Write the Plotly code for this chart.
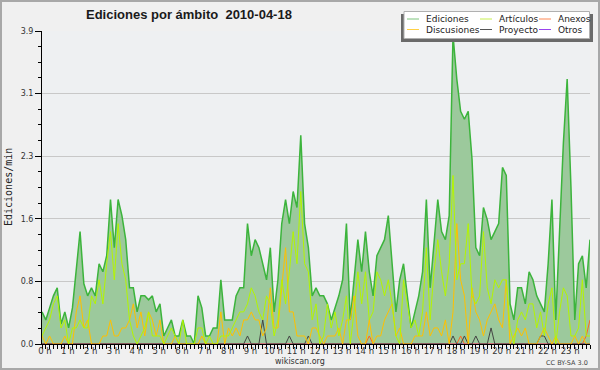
import plotly.graph_objects as go

# ---------------- data ----------------
# one sample every 10 minutes, 00:00 .. 24:00 (hours)
times = [m / 60 for m in range(0, 24 * 60 + 1, 10)]
hour_ticks = list(range(24))
hour_labels = [f"{h} h" for h in hour_ticks]
y_ticks = [0, 0.78, 1.56, 2.34, 3.12, 3.9]
y_tick_labels = ["0.0", "0.8", "1.6", "2.3", "3.1", "3.9"]

ediciones = [
    0.4, 0.3, 0.45, 0.6, 0.7, 0.25, 0.4, 0.2, 0.45, 0.95, 1.4, 0.75,
    0.6, 0.7, 0.6, 1.0, 0.9, 1.1, 1.8, 1.2, 1.8, 1.6, 1.3, 0.7,
    0.7, 0.4, 0.6, 0.6, 0.55, 0.6, 0.4, 0.5, 0.1, 0.2, 0.3, 0.1,
    0.1, 0.3, 0.1, 0.1, 0.0, 0.6, 0.45, 0.1, 0.1, 0.2, 0.2, 0.8,
    0.3, 0.3, 0.3, 0.6, 0.7, 0.7, 1.5, 1.1, 1.3, 1.2, 1.0, 0.8,
    1.2, 0.4, 0.8, 1.5, 1.8, 1.5, 1.9, 1.7, 2.6, 1.5, 1.2, 0.6,
    0.7, 0.6, 0.6, 0.5, 0.3, 0.45, 0.6, 0.8, 1.5, 0.3, 0.85, 1.3,
    0.9, 1.4, 0.9, 0.6, 1.1, 1.2, 1.3, 1.6, 1.0, 0.4, 0.8, 1.0,
    0.6, 0.2, 0.4, 0.6, 0.9, 1.8, 0.7, 1.3, 1.8, 1.4, 1.3, 1.6,
    3.85, 3.3, 2.9, 2.8, 2.9, 2.3, 1.2, 1.1, 1.7, 1.55, 1.3, 1.4,
    1.5, 2.2, 2.1, 0.5, 0.3, 0.7, 0.7, 0.5, 0.9, 0.8, 0.6, 0.5,
    0.4, 1.0, 1.8, 0.3, 1.4, 2.5, 3.3, 1.95, 0.3, 1.0, 1.1, 0.7,
    1.3,
]

articulos = [
    0.1, 0.2, 0.3, 0.5, 0.6, 0.2, 0.3, 0.0, 0.2, 0.2, 0.3, 0.2,
    0.2, 0.6, 0.5, 0.8, 0.5, 1.0, 1.4, 0.8, 1.5, 1.0, 0.8, 0.3,
    0.1, 0.0, 0.1, 0.2, 0.4, 0.1, 0.1, 0.1, 0.0, 0.1, 0.2, 0.1,
    0.0, 0.3, 0.0, 0.0, 0.0, 0.2, 0.2, 0.0, 0.1, 0.0, 0.0, 0.1,
    0.1, 0.1, 0.2, 0.3, 0.4, 0.4, 0.5, 0.7, 0.6, 0.4, 0.3, 0.6,
    0.5, 0.1, 0.3, 0.8, 0.5, 0.9, 1.4, 1.0, 1.9, 1.0, 0.9, 0.3,
    0.5, 0.0, 0.1, 0.5, 0.2, 0.4, 0.1, 0.3, 0.6, 0.0, 0.4, 0.9,
    0.5, 0.9, 0.3, 0.4, 0.9, 0.8, 0.6, 0.8, 0.5, 0.1, 0.0, 0.8,
    0.5, 0.2, 0.3, 0.1, 0.4, 1.2, 0.3, 0.9, 1.3, 0.9, 0.6, 1.0,
    2.1, 0.8, 1.0, 1.0, 1.5, 0.6, 0.5, 0.6, 1.4, 0.7, 0.5, 0.8,
    0.7, 0.8, 0.8, 0.2, 0.0, 0.3, 0.4, 0.3, 0.5, 0.5, 0.2, 0.4,
    0.1, 0.5, 0.7, 0.0, 0.4, 0.7, 0.6, 0.1, 0.1, 0.2, 0.8, 0.1,
    0.1,
]

discusiones = [
    0.1, 0.0, 0.1, 0.0, 0.0, 0.0, 0.1, 0.0, 0.0, 0.4, 0.6, 0.2,
    0.3, 0.0, 0.0, 0.0, 0.1, 0.1, 0.3, 0.1, 0.1, 0.2, 0.2, 0.3,
    0.5, 0.2, 0.4, 0.1, 0.4, 0.3, 0.1, 0.3, 0.0, 0.0, 0.0, 0.1,
    0.0, 0.0, 0.0, 0.0, 0.0, 0.0, 0.1, 0.0, 0.0, 0.0, 0.0, 0.4,
    0.0, 0.2, 0.1, 0.2, 0.1, 0.3, 0.3, 0.4, 0.3, 0.3, 0.1, 0.2,
    0.7, 0.2, 0.2, 0.7, 1.2, 0.4, 0.4, 0.1, 0.1, 0.1, 0.0, 0.2,
    0.2, 0.1, 0.0, 0.1, 0.1, 0.1, 0.2, 0.0, 0.3, 0.3, 0.6, 0.1,
    0.0, 0.0, 0.3, 0.0, 0.1, 0.1, 0.3, 0.4, 0.5, 0.1, 0.2, 0.0,
    0.0, 0.0, 0.1, 0.1, 0.1, 0.4, 0.1, 0.2, 0.2, 0.1, 0.3, 0.0,
    0.4, 1.5, 0.8, 0.6, 0.0, 0.7, 0.4, 0.3, 0.1, 0.3, 0.4, 0.5,
    0.3, 0.2, 0.8, 0.0, 0.1, 0.2, 0.1, 0.2, 0.0, 0.0, 0.0, 0.1,
    0.2, 0.1, 0.0, 0.1, 0.0, 0.0, 0.0, 0.0, 0.1, 0.0, 0.1, 0.0,
    0.0,
]

anexos = [
    0, 0, 0, 0, 0, 0, 0, 0, 0, 0, 0, 0,
    0, 0, 0, 0, 0, 0, 0, 0, 0, 0, 0, 0,
    0, 0, 0, 0, 0, 0, 0, 0, 0, 0, 0, 0,
    0, 0, 0, 0, 0, 0, 0, 0, 0, 0, 0, 0,
    0, 0, 0, 0, 0, 0, 0, 0, 0, 0, 0, 0,
    0, 0, 0, 0, 0, 0, 0, 0, 0, 0, 0, 0,
    0, 0, 0, 0, 0, 0, 0, 0, 0, 0, 0, 0,
    0, 0, 0.1, 0, 0, 0, 0, 0, 0, 0, 0, 0,
    0, 0, 0, 0, 0, 0, 0, 0, 0, 0, 0, 0,
    0, 0, 0.1, 0, 0, 0, 0, 0, 0, 0, 0, 0,
    0, 0, 0, 0, 0, 0, 0, 0, 0, 0, 0, 0,
    0, 0, 0, 0, 0, 0, 0, 0, 0, 0, 0, 0.1,
    0.3,
]

proyecto = [
    0, 0, 0, 0, 0, 0, 0, 0, 0, 0, 0, 0,
    0, 0, 0, 0, 0, 0, 0, 0, 0, 0, 0, 0,
    0, 0, 0, 0, 0, 0, 0, 0, 0, 0, 0, 0,
    0, 0, 0, 0, 0, 0, 0, 0, 0, 0, 0, 0,
    0, 0, 0, 0, 0, 0, 0.1, 0, 0, 0, 0.3, 0,
    0, 0, 0, 0, 0, 0.1, 0, 0, 0, 0, 0.1, 0,
    0, 0, 0, 0, 0, 0, 0, 0, 0, 0, 0, 0,
    0, 0, 0, 0, 0, 0, 0, 0, 0, 0, 0, 0,
    0, 0, 0, 0, 0, 0, 0, 0, 0, 0, 0, 0,
    0.1, 0, 0, 0.1, 0, 0, 0.1, 0, 0, 0, 0.2, 0,
    0, 0, 0, 0, 0, 0, 0, 0, 0, 0, 0, 0.1,
    0.1, 0, 0, 0, 0, 0, 0, 0, 0, 0, 0, 0,
    0,
]

otros = [0] * 145  # no edits in this namespace on that day

# ---------------- layout helpers ----------------
W, H = 600, 370
PL, PR, PT, PB = 42, 590, 31, 344  # plot area in pixels


def px(x):
    return (x - PL) / (PR - PL)


def py(y):
    return (PB - y) / (PB - PT)


fig = go.Figure()

fig.add_trace(go.Scatter(
    x=times, y=ediciones, mode="lines", name="Ediciones",
    fill="tozeroy", fillcolor="#9cc99c",
    line=dict(color="#3cb43c", width=1.5),
))
series = [
    ("Otros", otros, "#9933ff"),
    ("Anexos", anexos, "#ff6622"),
    ("Proyecto", proyecto, "#444444"),
    ("Discusiones", discusiones, "#ffc000"),
    ("Artículos", articulos, "#b4f500"),
]
for name, vals, col in series:
    fig.add_trace(go.Scatter(
        x=times, y=vals, mode="lines", name=name,
        line=dict(color=col, width=1),
    ))

shapes = []
annotations = []

# outer frame
shapes.append(dict(type="rect", xref="paper", yref="paper",
                   x0=px(1), x1=px(599), y0=py(1), y1=py(369),
                   line=dict(color="#a8a8a8", width=2), fillcolor="rgba(0,0,0,0)",
                   layer="above"))

# legend box with shadow
shapes.append(dict(type="rect", xref="paper", yref="paper",
                   x0=px(401), x1=px(593), y0=py(14), y1=py(42),
                   line=dict(width=0), fillcolor="#6a6a6a", layer="above"))
shapes.append(dict(type="rect", xref="paper", yref="paper",
                   x0=px(404), x1=px(589.5), y0=py(11.5), y1=py(38.5),
                   line=dict(color="#b0b0b0", width=1), fillcolor="#ffffff",
                   layer="above"))

legend_items = [
    ("Ediciones", "#7cc47c", 407, 424, 19),
    ("Artículos", "#c8f050", 480, 497, 19),
    ("Anexos", "#ff8855", 539, 556, 19),
    ("Discusiones", "#ffd045", 407, 424, 29.5),
    ("Proyecto", "#555555", 480, 497, 29.5),
    ("Otros", "#9a44ee", 539, 556, 29.5),
]
for name, col, lx, tx, ly in legend_items:
    shapes.append(dict(type="line", xref="paper", yref="paper",
                       x0=px(lx), x1=px(lx + 12), y0=py(ly), y1=py(ly),
                       line=dict(color=col, width=1), layer="above"))
    annotations.append(dict(xref="paper", yref="paper", x=px(tx), y=py(ly),
                            xanchor="left", yanchor="middle", showarrow=False,
                            text=name,
                            font=dict(family="DejaVu Sans", size=9, color="#222222")))

# title
annotations.append(dict(xref="paper", yref="paper", x=px(188.5), y=py(14),
                        xanchor="center", yanchor="middle", showarrow=False,
                        text="<b>Ediciones por ámbito\u00a0 2010-04-18</b>",
                        font=dict(family="Liberation Sans", size=13, color="#1a1a1a"),
                        ))
# y-axis title
annotations.append(dict(xref="paper", yref="paper", x=px(8.5), y=py(187.5),
                        xanchor="center", yanchor="middle", showarrow=False,
                        textangle=-90, text="Ediciones/min",
                        font=dict(family="DejaVu Sans Mono", size=10, color="#222222")))
# footer
annotations.append(dict(xref="paper", yref="paper", x=px(300), y=py(361),
                        xanchor="center", yanchor="middle", showarrow=False,
                        text="wikiscan.org",
                        font=dict(family="DejaVu Sans", size=8, color="#333333")))
annotations.append(dict(xref="paper", yref="paper", x=px(590), y=py(362.5),
                        xanchor="right", yanchor="middle", showarrow=False,
                        text="CC BY-SA 3.0",
                        font=dict(family="DejaVu Sans", size=6.5, color="#444444")))

fig.update_layout(
    width=W, height=H,
    margin=dict(l=PL, r=W - PR, t=PT, b=H - PB, autoexpand=False),
    paper_bgcolor="#f0f0f0",
    plot_bgcolor="#eef0f2",
    showlegend=False,
    hovermode=False,
    shapes=shapes,
    annotations=annotations,
    xaxis=dict(
        range=[0, 24], tickmode="array", tickvals=hour_ticks, ticktext=hour_labels,
        ticks="outside", ticklen=4, tickwidth=1, tickcolor="black",
        showline=True, linecolor="black", linewidth=1,
        showgrid=False, zeroline=False,
        tickfont=dict(family="DejaVu Sans", size=8.5, color="#333333"),
        ticklabelshift=3, ticklabelstandoff=-5,
        minor=dict(dtick=1 / 6, tick0=0, ticks="outside", ticklen=4,
                   tickwidth=1, tickcolor="black", showgrid=False),
    ),
    yaxis=dict(
        range=[0, 3.9], tickmode="array", tickvals=y_ticks, ticktext=y_tick_labels,
        ticks="outside", ticklen=6, tickwidth=1, tickcolor="black",
        showline=True, linecolor="black", linewidth=1,
        showgrid=True, gridcolor="#c8c8c8", gridwidth=1, zeroline=False,
        tickfont=dict(family="DejaVu Sans", size=8, color="#333333"),
        minor=dict(dtick=0.195, tick0=0, ticks="outside", ticklen=3,
                   tickwidth=1, tickcolor="black", showgrid=False),
    ),
)

fig.write_html(
    "out.html",
    config={"displayModeBar": False, "staticPlot": True},
    post_script="document.body.style.margin='0';document.body.style.overflow='hidden';",
)
